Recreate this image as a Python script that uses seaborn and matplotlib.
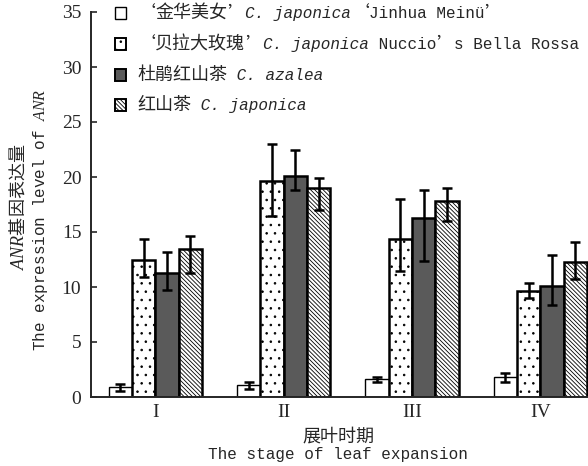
import pandas as pd
import matplotlib
matplotlib.use('Agg')
import matplotlib.pyplot as plt
import seaborn as sns
from matplotlib.offsetbox import TextArea, HPacker, DrawingArea, AnchoredOffsetbox
from matplotlib.patches import Rectangle

# ---- data ----
stages = ['I', 'II', 'III', 'IV']
cultivars = ['Jinhua Meinu', 'Nuccio Bella Rossa', 'C. azalea', 'C. japonica']

# legend text: Chinese name, latin species name (italic), cultivar name
leg_cn = ['‘金华美女’', '‘贝拉大玫瑰’', '杜鹃红山茶', '红山茶']
leg_sci = ['C. japonica', 'C. japonica', ' C. azalea', ' C. japonica']
leg_cv = ['‘Jinhua Meinü’', ' Nuccio’s Bella Rossa', '', '']

jinhua = [0.95, 1.08, 1.60, 1.79]
jinhua_low = [0.57, 0.76, 1.36, 1.34]
jinhua_high = [1.16, 1.33, 1.85, 2.20]

bella = [12.5, 19.6, 14.4, 9.65]
bella_low = [10.9, 16.5, 11.45, 9.0]
bella_high = [14.4, 23.0, 18.0, 10.4]

azalea = [11.3, 20.1, 16.3, 10.1]
azalea_low = [9.7, 18.8, 12.4, 8.4]
azalea_high = [13.2, 22.5, 18.8, 12.95]

japonica = [13.5, 19.0, 17.8, 12.3]
japonica_low = [11.3, 17.0, 16.0, 10.7]
japonica_high = [14.6, 19.95, 19.0, 14.05]

values = [jinhua, bella, azalea, japonica]
lows = [jinhua_low, bella_low, azalea_low, japonica_low]
highs = [jinhua_high, bella_high, azalea_high, japonica_high]

df = pd.DataFrame({'stage': stages * 4,
                   'cultivar': [c for c in cultivars for _ in stages],
                   'value': jinhua + bella + azalea + japonica})

# ---- style ----
sns.set_style('ticks')
plt.rcParams['font.family'] = ['Liberation Mono', 'Noto Sans CJK SC', 'DejaVu Sans']
plt.rcParams['mathtext.fontset'] = 'custom'
plt.rcParams['mathtext.it'] = 'Liberation Serif:italic'
plt.rcParams['mathtext.rm'] = 'Liberation Serif'
plt.rcParams['hatch.linewidth'] = 0.6

CJK = 'Noto Sans CJK SC'
MONO = 'Liberation Mono'
cjk_size = 13
lat_size = 11.5

faces = ['white', 'white', '#5a5a5a', 'white']
hatches = [None, '..', None, '\\\\\\\\\\\\\\\\']
edge_w = [1.0, 1.8, 1.8, 1.8]

fig = plt.figure(figsize=(5.88, 4.66), dpi=100)
ax = fig.add_axes([91/588, 69/466, 497/588, 385/466])

sns.barplot(data=df, x='stage', y='value', hue='cultivar', hue_order=cultivars,
            palette=faces, saturation=1, errorbar=None, width=0.727, gap=0,
            edgecolor='black', linewidth=1.8, legend=False, ax=ax)

bars = list(ax.containers)
for i, cont in enumerate(bars):
    for p in cont.patches:
        p.set_linewidth(edge_w[i])
        if hatches[i]:
            p.set_hatch(hatches[i])
    xs = [p.get_x() + p.get_width() / 2 for p in cont.patches]
    v = values[i]
    yerr = [[v[k] - lows[i][k] for k in range(4)], [highs[i][k] - v[k] for k in range(4)]]
    ax.errorbar(xs, v, yerr=yerr, fmt='none', ecolor='black', elinewidth=1.8,
                capsize=3.4, capthick=1.8, zorder=5)

ax.set_xlim(-0.5, 3.37)
ax.set_ylim(0, 35)
ax.set_yticks(range(0, 36, 5))
ax.set_xlabel('')
ax.set_ylabel('')
sns.despine(ax=ax)
for s in ['left', 'bottom']:
    ax.spines[s].set_linewidth(1.4)
ax.tick_params(axis='y', direction='in', length=4, width=1.2, labelsize=14, pad=7)
ax.tick_params(axis='x', length=0, labelsize=14, pad=5)
for lbl in ax.get_yticklabels() + ax.get_xticklabels():
    lbl.set_fontfamily('Liberation Serif')


# ---- legend: mixed Chinese / latin / italic pieces ----
def pieces(s, style='normal'):
    # curly quotes are full width in the original, so they go to the CJK font
    out, buf = [], ''
    for ch in s:
        if ch in '‘’':
            if buf:
                out.append(TextArea(buf, textprops=dict(family=MONO, size=lat_size, style=style)))
                buf = ''
            out.append(TextArea(ch, textprops=dict(family=CJK, size=cjk_size)))
        else:
            buf += ch
    if buf:
        out.append(TextArea(buf, textprops=dict(family=MONO, size=lat_size, style=style)))
    return out


row_y = [13, 44, 75, 105]
for i in range(4):
    p = bars[i].patches[0]
    da = DrawingArea(8, 8, 0, 0)
    da.add_artist(Rectangle((0, 0), 8, 8, facecolor=p.get_facecolor(), edgecolor='black',
                            hatch=p.get_hatch(), lw=1.0 if i == 0 else 1.4))
    cn = leg_cn[i].strip('‘’')
    parts = []
    if leg_cn[i].startswith('‘'):
        parts.append(TextArea('‘', textprops=dict(family=CJK, size=cjk_size)))
    parts.append(TextArea(cn, textprops=dict(family=CJK, size=cjk_size)))
    if leg_cn[i].endswith('’'):
        parts.append(TextArea('’', textprops=dict(family=CJK, size=cjk_size)))
    parts += pieces(leg_sci[i], 'italic')
    if leg_cv[i]:
        parts += pieces(leg_cv[i])
    txt = HPacker(children=parts, sep=0, pad=0, align='baseline')
    row = HPacker(children=[da, txt], sep=8, pad=0, align='center')
    box = AnchoredOffsetbox(loc='center left', child=row, pad=0, borderpad=0, frameon=False,
                            bbox_to_anchor=(115/588, 1 - row_y[i]/466),
                            bbox_transform=fig.transFigure)
    ax.add_artist(box)

# axis titles (two lines, Chinese + English)
fig.text(18/588, 1 - 207/466, r"$\mathit{ANR}$基因表达量", rotation=90,
         ha='center', va='center', fontsize=cjk_size, family=CJK)
fig.text(40/588, 1 - 220/466, r"The expression level of $\mathit{ANR}$", rotation=90,
         ha='center', va='center', fontsize=lat_size, family=MONO)
fig.text(338/588, 1 - 437/466, "展叶时期", ha='center', va='center', fontsize=cjk_size, family=CJK)
fig.text(338/588, 1 - 455/466, "The stage of leaf expansion", ha='center', va='center',
         fontsize=lat_size, family=MONO)

fig.savefig('out.png', dpi=100)
